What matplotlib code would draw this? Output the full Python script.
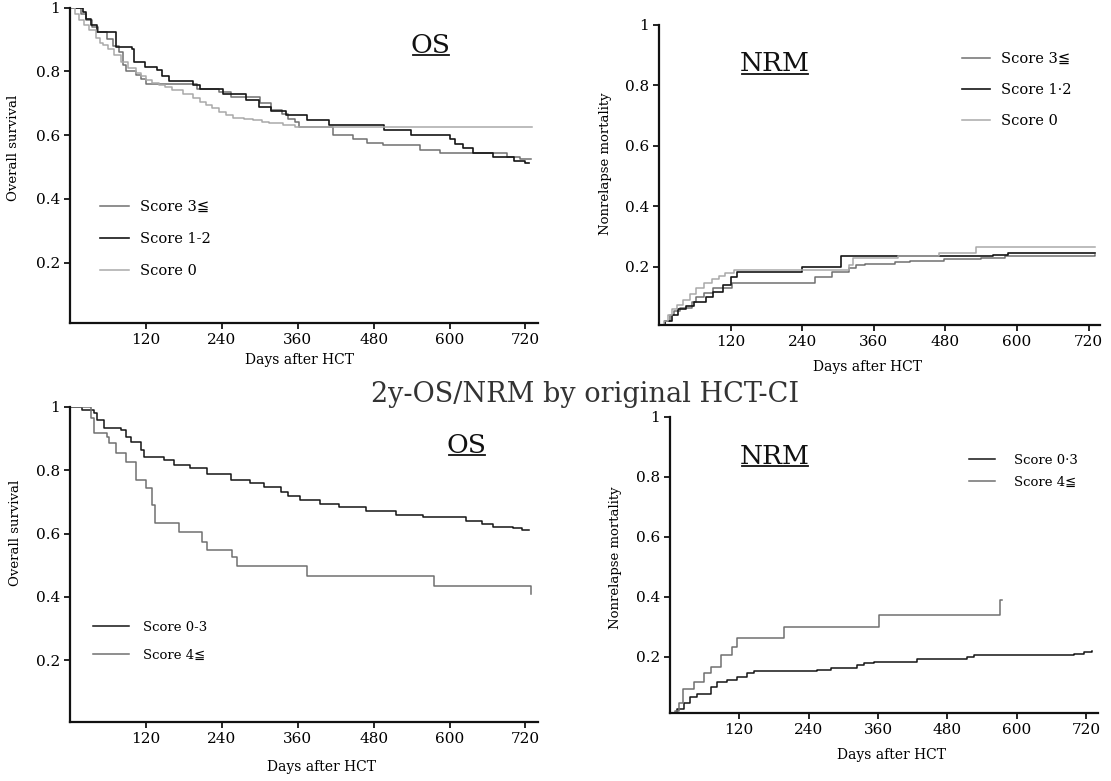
import matplotlib
matplotlib.use("Agg")
import matplotlib.pyplot as plt
from matplotlib.lines import Line2D

plt.rcParams['font.family'] = ['DejaVu Serif', 'DejaVu Sans', 'Noto Sans CJK JP']

# ---- data (days, probability) ----
# top-left: OS by modified score
os_s3_d = [0, 18, 25, 35, 45, 58, 68, 78, 84, 88, 105, 113, 120, 200, 235, 255, 300, 318, 335, 345, 355, 362, 415, 448, 470, 495, 553, 585, 690, 712, 728]
os_s3 = [1.0, 0.98, 0.96, 0.94, 0.925, 0.90, 0.88, 0.86, 0.82, 0.80, 0.79, 0.775, 0.761, 0.745, 0.735, 0.72, 0.70, 0.68, 0.665, 0.65, 0.64, 0.627, 0.60, 0.587, 0.576, 0.569, 0.554, 0.543, 0.533, 0.525, 0.525]
os_s12_d = [0, 20, 26, 33, 42, 73, 98, 101, 118, 138, 146, 157, 194, 206, 242, 279, 299, 318, 341, 375, 409, 496, 539, 601, 609, 621, 637, 669, 702, 720, 726]
os_s12 = [1.0, 0.985, 0.965, 0.945, 0.923, 0.878, 0.869, 0.829, 0.813, 0.805, 0.786, 0.771, 0.758, 0.744, 0.729, 0.711, 0.688, 0.676, 0.664, 0.648, 0.631, 0.617, 0.602, 0.587, 0.573, 0.559, 0.545, 0.533, 0.52, 0.514, 0.514]
os_s0_d = [0, 8, 15, 22, 30, 41, 48, 52, 60, 70, 80, 92, 104, 112, 120, 130, 141, 150, 162, 178, 194, 205, 215, 225, 236, 247, 257, 275, 289, 303, 315, 336, 356, 730]
os_s0 = [1.0, 0.98, 0.96, 0.945, 0.93, 0.905, 0.89, 0.883, 0.87, 0.85, 0.83, 0.81, 0.795, 0.785, 0.773, 0.765, 0.757, 0.75, 0.742, 0.73, 0.717, 0.705, 0.696, 0.685, 0.673, 0.663, 0.654, 0.65, 0.648, 0.642, 0.638, 0.632, 0.627, 0.627]

# top-right: NRM by modified score
nrm_s3_d = [0, 10, 18, 25, 35, 55, 62, 75, 90, 122, 262, 290, 318, 330, 345, 395, 420, 478, 540, 580, 730]
nrm_s3 = [0.0, 0.02, 0.04, 0.055, 0.065, 0.085, 0.10, 0.115, 0.13, 0.148, 0.165, 0.184, 0.195, 0.205, 0.21, 0.215, 0.22, 0.225, 0.23, 0.235, 0.24]
nrm_s12_d = [0, 10, 22, 32, 45, 58, 78, 90, 108, 120, 131, 240, 305, 560, 585, 730]
nrm_s12 = [0.0, 0.02, 0.04, 0.06, 0.07, 0.085, 0.10, 0.118, 0.14, 0.165, 0.184, 0.20, 0.236, 0.24, 0.245, 0.245]
nrm_s0_d = [0, 8, 15, 22, 30, 40, 52, 62, 75, 88, 100, 110, 126, 318, 325, 400, 470, 532, 730]
nrm_s0 = [0.0, 0.02, 0.04, 0.06, 0.075, 0.09, 0.11, 0.13, 0.145, 0.16, 0.17, 0.18, 0.19, 0.205, 0.23, 0.235, 0.245, 0.265, 0.265]

# bottom-left: OS by original HCT-CI
os_lo_d = [0, 19, 38, 43, 54, 80, 88, 96, 112, 117, 148, 164, 190, 216, 254, 285, 306, 333, 345, 363, 395, 426, 468, 516, 558, 600, 626, 652, 668, 700, 715, 726]
os_lo = [1.0, 0.99, 0.982, 0.959, 0.934, 0.927, 0.906, 0.89, 0.864, 0.843, 0.833, 0.817, 0.807, 0.788, 0.769, 0.76, 0.748, 0.733, 0.72, 0.706, 0.694, 0.685, 0.672, 0.659, 0.653, 0.652, 0.641, 0.63, 0.622, 0.618, 0.611, 0.611]
os_hi_d = [0, 33, 38, 58, 62, 72, 88, 104, 120, 130, 135, 172, 209, 217, 256, 264, 374, 575, 728]
os_hi = [1.0, 0.965, 0.918, 0.906, 0.886, 0.855, 0.827, 0.769, 0.744, 0.69, 0.633, 0.606, 0.574, 0.548, 0.527, 0.499, 0.466, 0.434, 0.41]

# bottom-right: NRM by original HCT-CI
nrm_lo_d = [0, 13, 25, 36, 47, 71, 82, 99, 116, 134, 146, 255, 278, 324, 336, 353, 427, 514, 525, 698, 715, 730]
nrm_lo = [0.0, 0.025, 0.046, 0.068, 0.077, 0.101, 0.118, 0.123, 0.134, 0.146, 0.152, 0.157, 0.162, 0.173, 0.179, 0.184, 0.192, 0.201, 0.207, 0.209, 0.215, 0.22]
nrm_hi_d = [0, 10, 16, 24, 43, 59, 71, 88, 108, 116, 198, 362, 570, 575]
nrm_hi = [0.0, 0.021, 0.046, 0.092, 0.118, 0.147, 0.168, 0.207, 0.234, 0.262, 0.30, 0.34, 0.39, 0.39]

x_ticks = [120, 240, 360, 480, 600, 720]
y_ticks = [0.2, 0.4, 0.6, 0.8, 1.0]
y_ticklabels = ['0.2', '0.4', '0.6', '0.8', '1']

BLACK = '#151515'
MID = '#707070'
LIGHT = '#a9a9a9'

W, H = 1111, 781
fig = plt.figure(figsize=(W / 100, H / 100), dpi=100)


def box(l, r, t, b):
    return [l / W, 1 - b / H, (r - l) / W, (b - t) / H]


def panel(rect, ylim, xmax, ylabel, ylab_xy, xlab_xy):
    ax = fig.add_axes(rect)
    ax.set_xlim(0, xmax)
    ax.set_ylim(*ylim)
    for s in ['top', 'right']:
        ax.spines[s].set_visible(False)
    for s in ['left', 'bottom']:
        ax.spines[s].set_linewidth(1.6)
        ax.spines[s].set_color('#111')
    ax.set_xticks(x_ticks)
    ax.set_yticks(y_ticks)
    ax.set_yticklabels(y_ticklabels)
    ax.tick_params(direction='out', length=4, width=1.2, labelsize=11, pad=3, labelcolor='#000')
    ax.set_ylabel(ylabel, fontsize=9.5)
    ax.set_xlabel('Days after HCT', fontsize=10)
    ax.yaxis.set_label_coords(*ylab_xy)
    ax.xaxis.set_label_coords(*xlab_xy)
    return ax


def underlined(ax, x, y, s):
    t = ax.text(x, y, s, transform=ax.transAxes, ha='center', va='center', fontsize=19, color='#111')
    fig.canvas.draw()
    bb = t.get_window_extent().transformed(fig.transFigure.inverted())
    fig.add_artist(Line2D([bb.x0 + 0.002, bb.x1 - 0.002], [bb.y0 + 0.003] * 2,
                          transform=fig.transFigure, color='#111', lw=1.3))


def legend(ax, handles, labels, xy, hlen, spacing, pad, size):
    ax.legend(handles, labels, loc='center left', bbox_to_anchor=xy, frameon=False,
              fontsize=size, handlelength=hlen, handletextpad=pad, labelspacing=spacing,
              borderpad=0, borderaxespad=0)


# top-left OS
ax1 = panel(box(70, 537.5, 7.6, 323), (0.011, 1.0), 739, 'Overall survival', (-0.107, 0.555), (0.49, -0.095))
h1 = ax1.step(os_s3_d, os_s3, where='post', color=MID, lw=1.1)[0]
h2 = ax1.step(os_s12_d, os_s12, where='post', color=BLACK, lw=1.2)[0]
h3 = ax1.step(os_s0_d, os_s0, where='post', color=LIGHT, lw=1.1)[0]
legend(ax1, [h1, h2, h3], ['Score 3≦', 'Score 1-2', 'Score 0'], (0.064, 0.266), 2.0, 1.25, 0.75, 10.5)
underlined(ax1, 0.772, 0.881, 'OS')

# top-right NRM
ax2 = panel(box(659, 1100, 24.5, 325), (0.008, 1.0), 739, 'Nonrelapse mortality', (-0.107, 0.536), (0.473, -0.116))
g1 = ax2.step(nrm_s3_d, nrm_s3, where='post', color=MID, lw=1.1)[0]
g2 = ax2.step(nrm_s12_d, nrm_s12, where='post', color=BLACK, lw=1.2)[0]
g3 = ax2.step(nrm_s0_d, nrm_s0, where='post', color=LIGHT, lw=1.1)[0]
legend(ax2, [g1, g2, g3], ['Score 3≦', 'Score 1·2', 'Score 0'], (0.687, 0.782), 1.9, 1.15, 0.75, 10.5)
underlined(ax2, 0.263, 0.869, 'NRM')

# bottom-left OS
ax3 = panel(box(70, 537.5, 407, 722), (0.005, 1.0), 739, 'Overall survival', (-0.103, 0.60), (0.537, -0.12))
k1 = ax3.step(os_lo_d, os_lo, where='post', color=BLACK, lw=1.1)[0]
k2 = ax3.step(os_hi_d, os_hi, where='post', color=MID, lw=1.1)[0]
legend(ax3, [k1, k2], ['Score 0-3', 'Score 4≦'], (0.049, 0.256), 2.7, 1.1, 1.1, 9.5)
underlined(ax3, 0.849, 0.879, 'OS')

# bottom-right NRM
ax4 = panel(box(669.6, 1098, 417, 713), (0.013, 1.0), 740, 'Nonrelapse mortality', (-0.111, 0.524), (0.519, -0.118))
m1 = ax4.step(nrm_lo_d, nrm_lo, where='post', color=BLACK, lw=1.1)[0]
m2 = ax4.step(nrm_hi_d, nrm_hi, where='post', color=MID, lw=1.1)[0]
legend(ax4, [m1, m2], ['Score 0·3', 'Score 4≦'], (0.699, 0.816), 2.0, 0.7, 1.4, 9.5)
underlined(ax4, 0.246, 0.868, 'NRM')

fig.text(585 / W, 1 - 395 / H, '2y-OS/NRM by original HCT-CI', ha='center', va='center',
         fontsize=19.5, color='#333')

fig.savefig('out.png', dpi=100)
